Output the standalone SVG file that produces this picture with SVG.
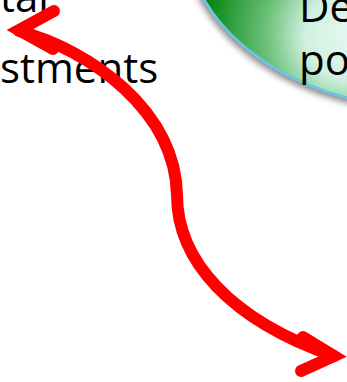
<svg xmlns="http://www.w3.org/2000/svg" width="347" height="382" viewBox="0 0 347 382">
<style>
.t{font-family:"Open Sans","Noto Sans",sans-serif;font-size:42px;fill:#000}
.conn{fill:none;stroke:#ff0000;stroke-width:12;stroke-linecap:round}
</style>
<defs>
<radialGradient id="g" gradientUnits="userSpaceOnUse" cx="350" cy="35" r="150">
<stop offset="0" stop-color="#e4f9f0"/>
<stop offset="0.3" stop-color="#d0f0e0"/>
<stop offset="0.55" stop-color="#70c27e"/>
<stop offset="0.8" stop-color="#2f9e3c"/>
<stop offset="1" stop-color="#008000"/>
</radialGradient>
<filter id="sh" x="-20%" y="-20%" width="140%" height="140%">
<feDropShadow dx="-2" dy="4" stdDeviation="3" flood-color="#000" flood-opacity="0.45"/>
</filter>
</defs>
<g id="node-left">
<text class="t" x="0" y="12">tal</text>
<text class="t" x="0" y="83">stments</text>
</g>
<g id="node-ellipse">
<ellipse cx="430" cy="-70" rx="245" ry="178" fill="url(#g)" stroke="#5bc8f0" stroke-width="2" filter="url(#sh)"/>
<text class="t" x="299" y="22">De</text>
<text class="t" x="299" y="75">po</text>
</g>
<g id="connectors">
<path class="conn" d="M19,31 C90,50 175,110 177,195 C177,260 230,320 334,356"/>
<polyline class="conn" stroke-linejoin="miter" stroke-miterlimit="10" points="54,11 19,30 53,49"/>
<polyline class="conn" stroke-linejoin="miter" stroke-miterlimit="10" points="303,337 334,356 301,371"/>
</g>
</svg>
